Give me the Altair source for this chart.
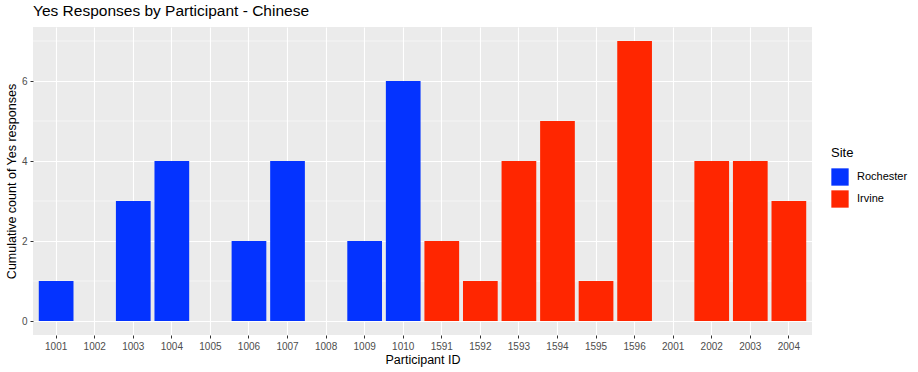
import altair as alt
import pandas as pd

participants = ["1001","1002","1003","1004","1005","1006","1007","1008","1009","1010",
                "1591","1592","1593","1594","1595","1596","2001","2002","2003","2004"]
counts = [1,0,3,4,0,2,4,0,2,6, 2,1,4,5,1,7,0,4,4,3]
sites = ["Rochester"]*10 + ["Irvine"]*10
site_order = ["Rochester", "Irvine"]
site_colors = ["#0433FF", "#FF2600"]
major_ticks = [0, 2, 4, 6]
minor_ticks = [1, 3, 5, 7]

df = pd.DataFrame({"pid": participants, "count": counts, "Site": sites})
minor_df = pd.DataFrame({"v": minor_ticks})

FONT = "Liberation Sans"
yscale = alt.Scale(domain=[-0.35, 7.35], nice=False, zero=False)

minor = alt.Chart(minor_df).mark_rule(color="white", strokeWidth=0.55).encode(
    y=alt.Y("v:Q", scale=yscale)
)

bars = alt.Chart(df).mark_bar().encode(
    x=alt.X("pid:N", sort=participants, title="Participant ID",
            scale=alt.Scale(paddingInner=0.1, paddingOuter=0.15),
            axis=alt.Axis(labelAngle=0, bandPosition=0.5, grid=True)),
    y=alt.Y("count:Q", scale=yscale, title="Cumulative count of Yes responses",
            axis=alt.Axis(values=major_ticks, grid=True)),
    color=alt.Color("Site:N", scale=alt.Scale(domain=site_order, range=site_colors),
                    sort=site_order,
                    legend=alt.Legend(title="Site", orient="none", legendX=798, legendY=120,
                                      symbolType="square", symbolSize=300,
                                      symbolStrokeWidth=0, rowPadding=4,
                                      titleFontSize=13, titleFontWeight="normal",
                                      titleColor="black", titlePadding=8,
                                      labelFontSize=11, labelColor="black",
                                      labelOffset=8, symbolOpacity=1)),
)

chart = alt.layer(minor, bars).properties(
    width=779, height=308,
    background="white",
    title=alt.TitleParams("Yes Responses by Participant - Chinese", anchor="start",
                          fontSize=15.5, fontWeight="normal", color="black",
                          font=FONT, offset=8, frame="group"),
    autosize=alt.AutoSizeParams(type="none"),
    padding={"left": 33, "top": 27, "right": 106, "bottom": 37},
).configure_view(
    fill="#EBEBEB", strokeWidth=0
).configure_axis(
    domain=False, gridColor="white", gridWidth=1.1,
    tickColor="#333333", tickSize=3, tickWidth=1,
    labelColor="#4D4D4D", labelFontSize=10, labelFont=FONT,
    titleFont=FONT, titleFontSize=12.5, titleFontWeight="normal", titleColor="black",
).configure_axisX(
    labelPadding=3, titlePadding=2
).configure_axisY(
    labelPadding=3, titlePadding=3
).configure_legend(
    labelFont=FONT, titleFont=FONT
)

chart.save("out.html", embed_options={"renderer": "svg", "actions": False})
